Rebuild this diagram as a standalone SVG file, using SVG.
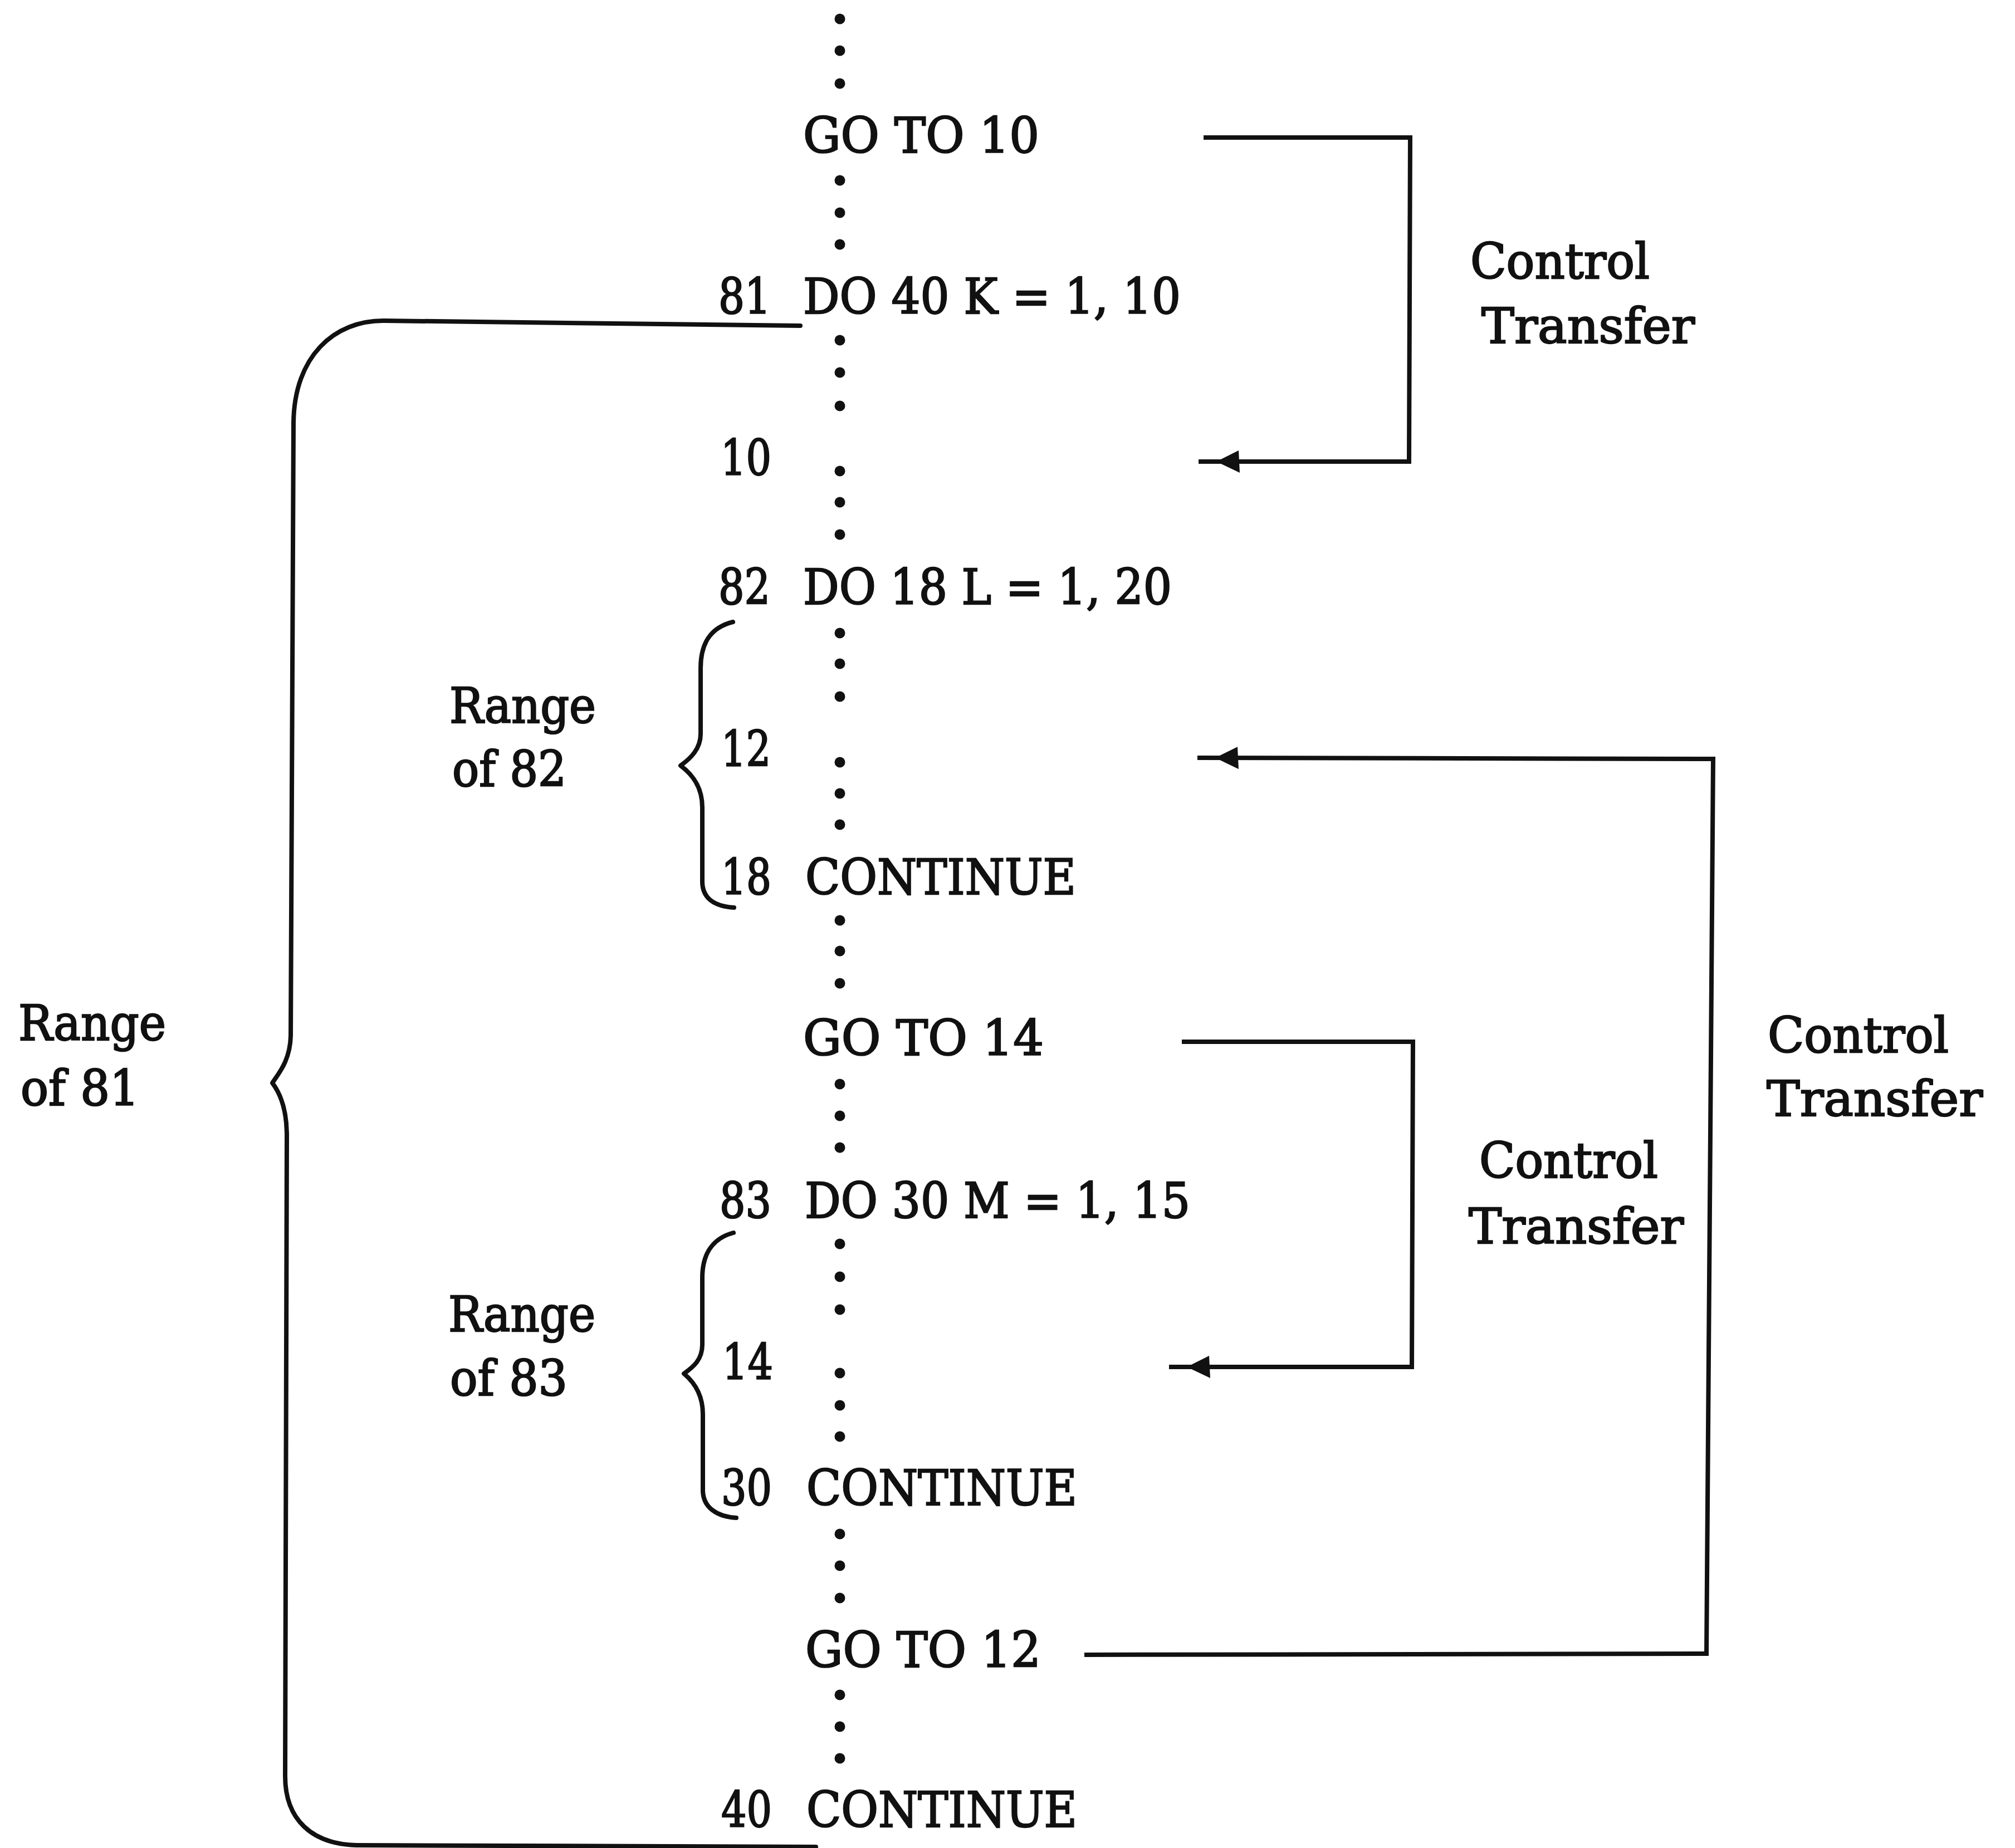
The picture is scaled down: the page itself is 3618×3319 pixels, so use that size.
<svg xmlns="http://www.w3.org/2000/svg" width="3618" height="3319" viewBox="0 0 3618 3319">
<style>
text{font-family:"DejaVu Serif","Liberation Serif",serif;font-size:87px;fill:#111;stroke:#111;stroke-width:2.5;}
.dot{fill:#111;}
.brace{fill:none;stroke:#111;stroke-width:8;stroke-linecap:round;stroke-linejoin:round;}
.conn{fill:none;stroke:#111;stroke-width:8;stroke-linejoin:miter;}
</style>
<defs>
<marker id="ah" markerUnits="userSpaceOnUse" markerWidth="120" markerHeight="60" refX="0" refY="0" orient="auto" overflow="visible" viewBox="-120 -30 120 60">
<path d="M-32,0 L-74,-20 L-72,20 Z" fill="#111"/>
</marker>
</defs>
<rect width="3618" height="3319" fill="#fff"/>

<g id="dots">
<circle class="dot" cx="1508" cy="34" r="9.5"/><circle class="dot" cx="1508" cy="91" r="9.5"/><circle class="dot" cx="1508" cy="150" r="9.5"/>
<circle class="dot" cx="1508" cy="324" r="9.5"/><circle class="dot" cx="1508" cy="382" r="9.5"/><circle class="dot" cx="1508" cy="439" r="9.5"/>
<circle class="dot" cx="1508" cy="611" r="9.5"/><circle class="dot" cx="1508" cy="669" r="9.5"/><circle class="dot" cx="1508" cy="729" r="9.5"/>
<circle class="dot" cx="1508" cy="846" r="9.5"/><circle class="dot" cx="1508" cy="902" r="9.5"/><circle class="dot" cx="1508" cy="960" r="9.5"/>
<circle class="dot" cx="1508" cy="1137" r="9.5"/><circle class="dot" cx="1508" cy="1192" r="9.5"/><circle class="dot" cx="1508" cy="1251" r="9.5"/>
<circle class="dot" cx="1508" cy="1369" r="9.5"/><circle class="dot" cx="1508" cy="1425" r="9.5"/><circle class="dot" cx="1508" cy="1481" r="9.5"/>
<circle class="dot" cx="1508" cy="1653" r="9.5"/><circle class="dot" cx="1508" cy="1708" r="9.5"/><circle class="dot" cx="1508" cy="1766" r="9.5"/>
<circle class="dot" cx="1508" cy="1947" r="9.5"/><circle class="dot" cx="1508" cy="2004" r="9.5"/><circle class="dot" cx="1508" cy="2061" r="9.5"/>
<circle class="dot" cx="1508" cy="2234" r="9.5"/><circle class="dot" cx="1508" cy="2293" r="9.5"/><circle class="dot" cx="1508" cy="2352" r="9.5"/>
<circle class="dot" cx="1508" cy="2466" r="9.5"/><circle class="dot" cx="1508" cy="2524" r="9.5"/><circle class="dot" cx="1508" cy="2580" r="9.5"/>
<circle class="dot" cx="1508" cy="2755" r="9.5"/><circle class="dot" cx="1508" cy="2812" r="9.5"/><circle class="dot" cx="1508" cy="2870" r="9.5"/>
<circle class="dot" cx="1508" cy="3044" r="9.5"/><circle class="dot" cx="1508" cy="3101" r="9.5"/><circle class="dot" cx="1508" cy="3158" r="9.5"/>
</g>

<g id="stmt-goto10"><text x="1442" y="274" textLength="424" lengthAdjust="spacingAndGlyphs">GO TO 10</text></g>
<g id="stmt-81"><text x="1290" y="563" textLength="94" lengthAdjust="spacingAndGlyphs">81</text><text x="1442" y="563" textLength="678" lengthAdjust="spacingAndGlyphs">DO 40 K = 1, 10</text></g>
<g id="stmt-10"><text x="1294" y="853" textLength="91" lengthAdjust="spacingAndGlyphs">10</text></g>
<g id="stmt-82"><text x="1290" y="1085" textLength="93" lengthAdjust="spacingAndGlyphs">82</text><text x="1442" y="1085" textLength="662" lengthAdjust="spacingAndGlyphs">DO 18 L = 1, 20</text></g>
<g id="stmt-12"><text x="1295" y="1376" textLength="89" lengthAdjust="spacingAndGlyphs">12</text></g>
<g id="stmt-18"><text x="1295" y="1606" textLength="90" lengthAdjust="spacingAndGlyphs">18</text><text x="1446" y="1606" textLength="486" lengthAdjust="spacingAndGlyphs">CONTINUE</text></g>
<g id="stmt-goto14"><text x="1442" y="1895" textLength="432" lengthAdjust="spacingAndGlyphs">GO TO 14</text></g>
<g id="stmt-83"><text x="1292" y="2187" textLength="93" lengthAdjust="spacingAndGlyphs">83</text><text x="1445" y="2187" textLength="692" lengthAdjust="spacingAndGlyphs">DO 30 M = 1, 15</text></g>
<g id="stmt-14"><text x="1297" y="2477" textLength="91" lengthAdjust="spacingAndGlyphs">14</text></g>
<g id="stmt-30"><text x="1295" y="2703" textLength="91" lengthAdjust="spacingAndGlyphs">30</text><text x="1448" y="2703" textLength="486" lengthAdjust="spacingAndGlyphs">CONTINUE</text></g>
<g id="stmt-goto12"><text x="1446" y="2994" textLength="423" lengthAdjust="spacingAndGlyphs">GO TO 12</text></g>
<g id="stmt-40"><text x="1295" y="3281" textLength="91" lengthAdjust="spacingAndGlyphs">40</text><text x="1448" y="3281" textLength="486" lengthAdjust="spacingAndGlyphs">CONTINUE</text></g>

<g id="label-ct1"><text x="2640" y="500" textLength="322" lengthAdjust="spacingAndGlyphs">Control</text><text x="2660" y="616" textLength="383" lengthAdjust="spacingAndGlyphs">Transfer</text></g>
<g id="label-ct2"><text x="2656" y="2115" textLength="321" lengthAdjust="spacingAndGlyphs">Control</text><text x="2637" y="2233" textLength="386" lengthAdjust="spacingAndGlyphs">Transfer</text></g>
<g id="label-ct3"><text x="3174" y="1890" textLength="325" lengthAdjust="spacingAndGlyphs">Control</text><text x="3172" y="2004" textLength="388" lengthAdjust="spacingAndGlyphs">Transfer</text></g>

<g id="range-81">
<path class="brace" d="M1437,585 L690,576 C600,575 528,640 527,760 L522,1860 C521,1905 500,1928 489,1945 C502,1962 515,1990 515,2040 L512,3190 C512,3268 560,3312 640,3314 L1465,3317"/>
<text x="33" y="1868" textLength="265" lengthAdjust="spacingAndGlyphs">Range</text><text x="37" y="1985" textLength="213" lengthAdjust="spacingAndGlyphs">of 81</text>
</g>
<g id="range-82">
<path class="brace" d="M1316,1117 C1280,1126 1258,1150 1258,1200 L1258,1318 C1258,1345 1240,1362 1222,1375 C1242,1390 1261,1412 1261,1450 L1261,1585 C1262,1615 1285,1628 1318,1630"/>
<text x="807" y="1298" textLength="263" lengthAdjust="spacingAndGlyphs">Range</text><text x="812" y="1412" textLength="205" lengthAdjust="spacingAndGlyphs">of 82</text>
</g>
<g id="range-83">
<path class="brace" d="M1317,2214 C1283,2223 1261,2248 1261,2295 L1261,2415 C1261,2442 1245,2455 1228,2467 C1246,2482 1262,2505 1262,2540 L1262,2678 C1263,2708 1288,2724 1322,2726"/>
<text x="805" y="2391" textLength="264" lengthAdjust="spacingAndGlyphs">Range</text><text x="808" y="2506" textLength="211" lengthAdjust="spacingAndGlyphs">of 83</text>
</g>

<g id="connectors">
<path class="conn" d="M2161,247 L2532,247 L2530,829 L2152,829" marker-end="url(#ah)"/>
<path class="conn" d="M2122,1871 L2537,1871 L2535,2455 L2099,2455" marker-end="url(#ah)"/>
<path class="conn" d="M1947,2972 L3064,2970 L3076,1363 L2150,1361" marker-end="url(#ah)"/>
</g>
</svg>
